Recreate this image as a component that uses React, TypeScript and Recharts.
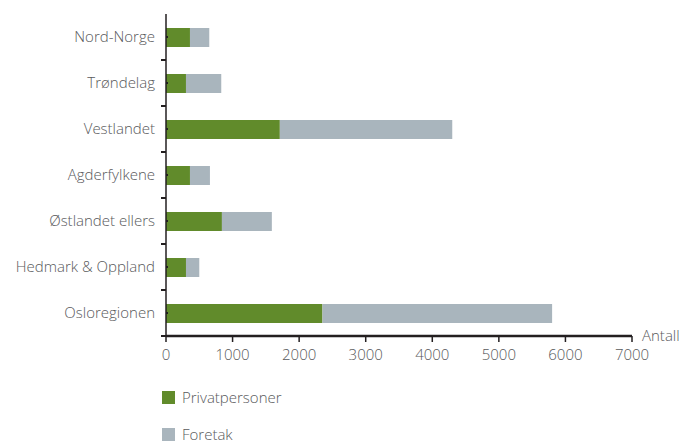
import { BarChart, Bar, XAxis, YAxis } from 'recharts';

const regions = ['Nord-Norge', 'Trøndelag', 'Vestlandet', 'Agderfylkene', 'Østlandet ellers', 'Hedmark & Oppland', 'Osloregionen'];
const privatpersoner = [360, 300, 1710, 360, 840, 300, 2350];
const foretak = [290, 530, 2590, 300, 750, 200, 3450];
const xTicks = [0, 1000, 2000, 3000, 4000, 5000, 6000, 7000];

const seriesNames = ['Privatpersoner', 'Foretak'];
const seriesColors = ['#618b2b', '#a9b5bd'];

const data = regions.map((r, i) => ({ region: r, privat: privatpersoner[i], foretak: foretak[i] }));

const W = 689;
const H = 444;
const MARGIN = { top: 14, right: 57, bottom: 78, left: 6 };
const Y_WIDTH = 160;
const PLOT_H = H - MARGIN.top - MARGIN.bottom - 30;
const HALF_BAND = PLOT_H / regions.length / 2;
const FONT = '"Open Sans", "Noto Sans", sans-serif';
const TEXT = '#58595b';
const AXIS = '#231f20';

function RegionTick(props: any) {
  const { x, y, payload } = props;
  return (
    <g>
      <text x={x} y={y} dy="0.35em" textAnchor="end" fill={TEXT} fontSize={15} fontFamily={FONT} fontWeight={300}>
        {payload.value}
      </text>
      <line x1={x + 6} x2={x + 11} y1={y + HALF_BAND} y2={y + HALF_BAND} stroke={AXIS} strokeWidth={2} />
      <line x1={x + 11} x2={x + 13} y1={y} y2={y} stroke={AXIS} strokeWidth={2} />
    </g>
  );
}

function AntallLabel(props: any) {
  const vb = props.viewBox || {};
  return (
    <text x={vb.x + vb.width + 10} y={vb.y} dy="0.35em" fill={TEXT} fontSize={15} fontFamily={FONT} fontWeight={300}>
      Antall
    </text>
  );
}

export default function App() {
  return (
    <div style={{ position: 'fixed', left: 0, top: 0, width: W, height: H, background: '#fff' }}>
      <BarChart width={W} height={H} data={data} layout="vertical" margin={MARGIN} barSize={19}>
        <XAxis
          type="number"
          domain={[0, 7000]}
          ticks={xTicks}
          interval={0}
          height={30}
          tickSize={6}
          tickMargin={7}
          axisLine={{ stroke: AXIS, strokeWidth: 2.5 }}
          tickLine={{ stroke: AXIS, strokeWidth: 1.5 }}
          tick={{ fill: TEXT, fontSize: 15, fontFamily: FONT, fontWeight: 300 }}
          label={<AntallLabel />}
        />
        <YAxis
          type="category"
          dataKey="region"
          width={Y_WIDTH}
          tickSize={5}
          tickMargin={6}
          tickLine={false}
          axisLine={{ stroke: AXIS, strokeWidth: 1.5 }}
          tick={<RegionTick />}
          interval={0}
        />
        <Bar dataKey="privat" name={seriesNames[0]} stackId="a" fill={seriesColors[0]} isAnimationActive={false} />
        <Bar dataKey="foretak" name={seriesNames[1]} stackId="a" fill={seriesColors[1]} isAnimationActive={false} />
      </BarChart>
      {seriesNames.map((n, i) => (
        <div
          key={n}
          style={{
            position: 'absolute',
            left: 162,
            top: 390 + i * 37,
            height: 15,
            lineHeight: '15px',
            display: 'flex',
            alignItems: 'center',
            fontFamily: FONT,
            fontWeight: 300,
            fontSize: 15,
            color: TEXT,
          }}
        >
          <span style={{ display: 'inline-block', width: 13, height: 13, background: seriesColors[i], marginRight: 7 }} />
          {n}
        </div>
      ))}
    </div>
  );
}
